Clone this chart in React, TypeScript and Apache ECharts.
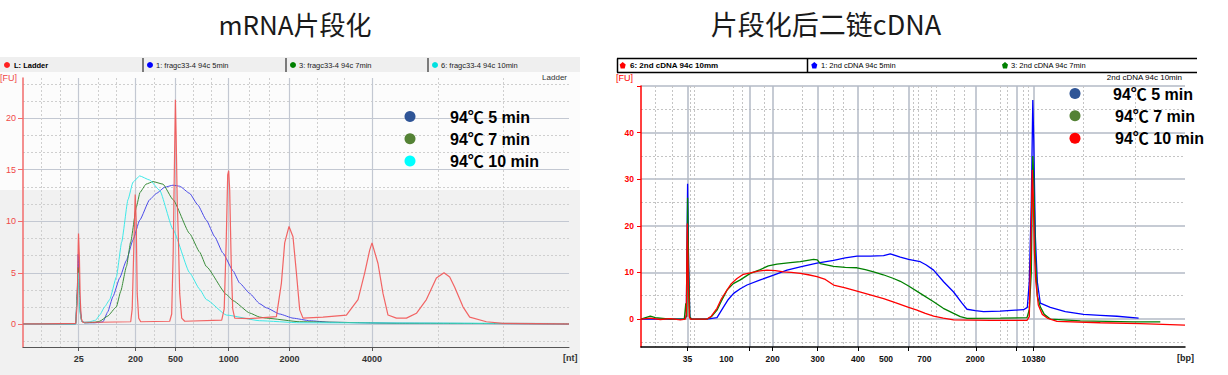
import React, { useEffect, useRef } from 'react';
import * as echarts from 'echarts';

// ---------- Left panel: mRNA fragmentation (x = migration time, scan units) ----------
const leftXTickLabels = ['25', '200', '500', '1000', '2000', '4000'];
const leftXTickTimes = [55.7, 112.4, 152.4, 205.7, 266.4, 349];
const leftXMinorTimes = [18.4, 37.4, 75, 93.4, 131.7, 170, 188.4, 226.7, 246.7, 294, 321.7, 415, 480.7];
const leftYTicks = [0, 5, 10, 15, 20];
const leftYMinor = [-1.667, 1.667, 3.333, 6.667, 8.333, 11.667, 13.333, 16.667, 18.333, 21.667, 23.333];

const leftLadder: [number, number][] = [
  [0, 0.05], [20, 0.05], [52.7, 0.1], [54.2, 2], [55.2, 7.5], [55.5, 8.8], [56.4, 6.5], [57.2, 2.5], [58.2, 0.6],
  [59.7, 0.2], [76.7, 0.2], [107.7, 0.25], [109.2, 1.5], [110.7, 7], [112.2, 12.6], [113.2, 10], [114.2, 3],
  [115.7, 0.6], [117.7, 0.25], [146.7, 0.3], [148.7, 1], [150.2, 7], [151.2, 14], [152.4, 21.8], [153.2, 18],
  [154.2, 12], [155.2, 9], [156.7, 3], [158.7, 0.6], [161.7, 0.3], [198.7, 0.4], [201.2, 1.5], [203.2, 8],
  [204.7, 14.5], [205.7, 14.9], [206.7, 13], [208.2, 6], [209.7, 1.5], [211.7, 0.6], [226.7, 0.55], [253.4, 0.75],
  [258.4, 4.0], [261.7, 7.9], [266, 9.5], [270, 8.5], [273.4, 5.0], [276.7, 1.4], [280, 0.6], [300, 0.7],
  [323.4, 0.9], [335, 2.4], [341.7, 5.0], [346.7, 7.2], [349, 7.9], [355, 5.9], [360, 3.0], [365, 0.9],
  [373.4, 0.6], [383.4, 0.6], [393.4, 1.07], [403.4, 2.4], [413.4, 4.5], [421, 5.0], [426.7, 4.6], [431.7, 3.6],
  [440, 1.7], [446.7, 0.7], [463.4, 0.25], [480, 0.1], [546, 0.05],
];
const left5min: [number, number][] = [
  [0, 0.05], [52.7, 0.05], [54.2, 3], [55.2, 6.8], [56.2, 4], [57.2, 1.5], [58.7, 0.3], [61.7, 0.15], [71.7, 0.15],
  [76.7, 0.2], [80, 0.25], [84.7, 1.2], [90, 2.7], [96.7, 4.5], [103.4, 6.2], [110, 8.2], [116.7, 10.1],
  [126.7, 12.1], [133.4, 12.7], [141.7, 13.3], [150, 13.5], [156.7, 13.4], [166.7, 12.7], [174.7, 11.6],
  [183.4, 10.1], [191.7, 8.5], [200, 6.9], [210, 5.2], [216.7, 4.0], [226.7, 3.0], [236.7, 2.0], [243.4, 1.6],
  [256.7, 1.0], [270, 0.6], [286.7, 0.35], [306.7, 0.2], [376.7, 0.1], [546, 0.05],
];
const left7min: [number, number][] = [
  [0, 0.05], [52.7, 0.05], [54.2, 3], [55.2, 5.5], [56.2, 3.5], [57.2, 1.2], [58.7, 0.3], [61.7, 0.15], [71.7, 0.2],
  [76.7, 0.3], [84.7, 0.8], [93.4, 1.7], [97.7, 3.2], [103.4, 5.6], [107.7, 8.0], [113.4, 11.4], [117, 12.8],
  [123, 13.6], [130, 13.85], [140, 13.6], [150, 12.1], [166.7, 8.8], [176.7, 7.0], [183.4, 5.6], [203.4, 2.9],
  [210, 2.3], [226.7, 1.1], [236.7, 0.7], [243.4, 0.6], [276.7, 0.25], [376.7, 0.1], [546, 0.05],
];
const left10min: [number, number][] = [
  [0, 0.05], [52.7, 0.05], [54.2, 2.5], [55.2, 5.0], [56.2, 3], [57.2, 1.0], [58.7, 0.3], [61.7, 0.2], [66.7, 0.25],
  [72.7, 0.4], [76.7, 0.9], [81.7, 1.7], [86.7, 2.4], [93.4, 4.6], [98.7, 8.0], [105, 12.1], [110, 13.8],
  [116.7, 14.4], [126.7, 14.0], [136.7, 13.0], [150, 9.2], [166.7, 5.0], [176.7, 3.4], [183.4, 2.4], [203.4, 0.9],
  [236.7, 0.35], [276.7, 0.15], [546, 0.08],
];

// ---------- Right panel: 2nd-strand cDNA (x = migration time, scan units) ----------
const rightXTickLabels = ['35', '100', '200', '300', '400', '500', '700', '2000', '10380'];
const rightXLabelTimes = [46.6, 85.3, 131.6, 176.6, 217, 245, 283.3, 334.3, 392.6];
const rightXMajorTimes = [46.6, 108.6, 131.6, 176.6, 217, 267.6, 335, 375.3, 392.6];
const rightXMinorTimes = [14.3, 31, 49.3, 53.6, 92.6, 101, 123.6, 161, 192.6, 202.6, 232.6, 252.6, 272.6, 277.6,
  290, 295.3, 313.6, 323.3, 359.3, 366, 382, 387.6, 442.6, 494.3];
const rightYLabels = [0, 10, 20, 30, 40];
const rightYMajor = [0, 10, 20, 30, 40, 50];
const rightYMinor = [-5, 5, 15, 25, 35, 45];

const right10min: [number, number][] = [
  [0, 0], [9.3, 0.2], [19.3, -0.1], [29.3, 0.1], [39.3, -0.2], [44.3, 0], [45.3, 1], [46.3, 20.5], [47.3, 8],
  [48.3, 0.5], [49.3, 0], [66, 0], [70.3, 0.6], [76, 2.3], [80.3, 4.3], [86, 6.2], [90.3, 7.6], [96, 8.7],
  [102.3, 9.6], [109.3, 9.9], [117.3, 10.3], [126, 10.5], [134.3, 10.4], [142.6, 10.1], [150.3, 10.0], [159.3, 9.8],
  [167.3, 9.5], [176, 9.1], [184.3, 8.5], [192.6, 7.3], [204.3, 6.7], [216, 6.0], [229.3, 5.2], [242.6, 4.4],
  [254.3, 3.5], [267.6, 2.5], [276, 1.9], [284.3, 1.2], [292.6, 0.64], [302.3, 0.2], [312.6, -0.2], [349.3, -0.3],
  [386, -0.3], [388.3, 0.5], [390.3, 20], [391.3, 32], [392.3, 26], [393.3, 15], [394.8, 8], [397.3, 3], [401.3, 1],
  [406.3, 0.2], [416, -0.5], [459.3, -0.8], [499.3, -1.0], [544, -1.3],
];
const right7min: [number, number][] = [
  [0, 0], [9.3, 0.6], [14.3, 0.3], [29.3, 0], [43.3, 0], [44.8, 3.4], [45.8, 0.5], [46.6, 26], [47.6, 11],
  [48.8, 0.5], [50.3, 0], [66, 0], [70.3, 0.5], [76, 1.9], [80.3, 3.8], [86, 6.2], [92.3, 7.6], [99.3, 8.4],
  [109.3, 9.8], [119.3, 10.6], [127.3, 11.4], [136, 11.8], [149.3, 12.1], [159.3, 12.3], [172.6, 12.8],
  [176.3, 12.7], [179.3, 11.9], [192.6, 11.3], [204.3, 11.1], [216, 11.0], [224.3, 10.6], [232.6, 10.1],
  [242.3, 9.5], [252.6, 8.7], [259.3, 8.1], [267.6, 7.1], [279.3, 5.5], [292.6, 3.7], [302.3, 2.3], [312.6, 1.2],
  [319.3, 0.5], [326, 0.15], [359.3, 0.2], [386, 0.3], [388.3, 2], [390.3, 10], [391.8, 35], [392.8, 30],
  [394.3, 14], [396.3, 5], [399.3, 2.6], [403.3, 1], [409.3, 0], [439.3, -0.4], [492.3, -0.6], [519.3, -0.6],
];
const right5min: [number, number][] = [
  [0, 0], [19.3, 0], [43.3, 0], [45.3, 0.5], [46.6, 29], [47.6, 12], [48.8, 0.5], [50.3, 0], [66, 0], [76, 0.3],
  [82.6, 2.6], [87.3, 4.2], [92.6, 5.5], [99.3, 6.5], [106, 7.3], [119.3, 8.4], [132.6, 9.4], [146, 10.5],
  [159.3, 11.2], [176, 12.0], [192.6, 12.6], [204.3, 13.1], [216, 13.5], [229.3, 13.5], [242.6, 13.6],
  [249.3, 14.0], [259.3, 13.3], [267.6, 12.8], [272.6, 12.6], [279.3, 12.3], [285.3, 11.6], [292.6, 10.5],
  [302.6, 8.0], [312.6, 5.8], [321, 3.4], [326, 2.1], [334.3, 1.8], [342.6, 1.6], [359.3, 1.7], [374.3, 1.9],
  [382.6, 2.0], [386.3, 2.5], [388.3, 8], [390.3, 25], [391.8, 47], [392.8, 38], [394.3, 18], [396.3, 8],
  [399.3, 3.4], [409.3, 2.5], [424.3, 1.6], [442.6, 1.0], [459.3, 0.8], [476, 0.6], [497.6, 0.2],
];

const titles = ['mRNA片段化', '片段化后二链cDNA'];
const bigLegendLabels = ['94℃ 5 min', '94℃ 7 min', '94℃ 10 min'];
const leftTraceLegend = ['L: Ladder', '1: fragc33-4 94c 5min', '3: fragc33-4 94c 7min', '6: fragc33-4 94c 10min'];
const rightTraceLegend = ['6: 2nd cDNA 94c 10mm', '1: 2nd cDNA 94c 5min', '3: 2nd cDNA 94c 7min'];

const SMALL = '"Liberation Sans", Arial, sans-serif';
const CJK = '"Noto Sans CJK SC", "Noto Sans", sans-serif';
const BIG = '"Liberation Sans", Arial, "Noto Sans CJK SC", sans-serif';

const pick = (positions: number[], labels: (string | number)[]) => (v: number) => {
  let best = 0;
  for (let i = 1; i < positions.length; i++) {
    if (Math.abs(positions[i] - v) < Math.abs(positions[best] - v)) best = i;
  }
  return String(labels[best]);
};

function minorAxis(gridIndex: number, min: number, max: number, values: number[], color: string) {
  return {
    gridIndex, type: 'value', min, max,
    axisLine: { show: false }, axisLabel: { show: false },
    axisTick: { show: false, customValues: values },
    splitLine: { show: true, lineStyle: { color, width: 1, type: [2, 2] } },
  };
}

function txt(x: number, y: number, text: string, style: any, extra: any = {}) {
  return { type: 'text', x, y, z: 50, silent: true, style: { text, textVerticalAlign: 'middle', verticalAlign: 'middle', ...style }, ...extra };
}

export default function App() {
  const ref = useRef<HTMLDivElement>(null);
  useEffect(() => {
    if (!ref.current) return;
    const chart = echarts.init(ref.current, undefined, { renderer: 'svg' });

    const leftColors = ['#0000ff', '#008000', '#00e0e0'];
    const graphic: any[] = [
      // left panel backgrounds
      { type: 'rect', z: -10, shape: { x: 0, y: 72, width: 580, height: 118 }, style: { fill: '#fcfcfc' } },
      { type: 'rect', z: -10, shape: { x: 0, y: 190, width: 580, height: 185 }, style: { fill: '#f1f1f1' } },
      { type: 'rect', z: -10, shape: { x: 0, y: 57, width: 580, height: 15 }, style: { fill: '#efefef' } },
      ...[143, 286, 428].map((x) => ({ type: 'line', shape: { x1: x, y1: 58, x2: x, y2: 72 }, style: { stroke: '#555', lineWidth: 1.5 } })),
      { type: 'circle', shape: { cx: 7, cy: 65, r: 3 }, style: { fill: '#ff2020' } },
      ...[150, 293, 435].map((x, i) => ({ type: 'circle', shape: { cx: x, cy: 65, r: 3 }, style: { fill: leftColors[i] } })),
      txt(14, 65, leftTraceLegend[0], { fontSize: 7.5, fontWeight: 'bold', fontFamily: SMALL, fill: '#000' }),
      txt(156, 65, leftTraceLegend[1], { fontSize: 7.5, fontFamily: SMALL, fill: '#222' }),
      txt(299, 65, leftTraceLegend[2], { fontSize: 7.5, fontFamily: SMALL, fill: '#222' }),
      txt(441, 65, leftTraceLegend[3], { fontSize: 7.5, fontFamily: SMALL, fill: '#222' }),
      txt(0, 78, '[FU]', { fontSize: 9, fontFamily: SMALL, fill: '#f04848' }),
      txt(567, 77, 'Ladder', { fontSize: 8, fontFamily: SMALL, fill: '#333', align: 'right', textAlign: 'right' }),
      txt(563, 358, '[nt]', { fontSize: 9, fontWeight: 'bold', fontFamily: SMALL, fill: '#333' }),
      // right panel legend bar
      { type: 'line', shape: { x1: 617, y1: 58.5, x2: 1197, y2: 58.5 }, style: { stroke: '#000', lineWidth: 1.5 } },
      { type: 'line', shape: { x1: 617, y1: 72.5, x2: 1197, y2: 72.5 }, style: { stroke: '#000', lineWidth: 1.5 } },
      { type: 'line', shape: { x1: 617.5, y1: 58.5, x2: 617.5, y2: 72.5 }, style: { stroke: '#000', lineWidth: 1.5 } },
      { type: 'line', shape: { x1: 807.5, y1: 58.5, x2: 807.5, y2: 72.5 }, style: { stroke: '#000', lineWidth: 1.5 } },
      ...[[622.7, '#ff0000'], [814.3, '#0000ff'], [1005, '#008000']].map(([x, c]) => ({
        type: 'polygon', shape: { points: [[(x as number), 62], [(x as number) + 3, 64.5], [(x as number) + 2, 68.5], [(x as number) - 2, 68.5], [(x as number) - 3, 64.5]] },
        style: { fill: c as string },
      })),
      txt(630, 65.5, rightTraceLegend[0], { fontSize: 8, fontWeight: 'bold', fontFamily: SMALL, fill: '#000' }),
      txt(821, 65.5, rightTraceLegend[1], { fontSize: 7.5, fontFamily: SMALL, fill: '#000' }),
      txt(1011, 65.5, rightTraceLegend[2], { fontSize: 7.5, fontFamily: SMALL, fill: '#000' }),
      txt(1182, 77.5, '2nd cDNA 94c 10min', { fontSize: 8, fontFamily: SMALL, fill: '#000', align: 'right', textAlign: 'right' }),
      txt(616, 78, '[FU]', { fontSize: 9, fontFamily: SMALL, fill: '#ff0000' }),
      txt(1177, 358, '[bp]', { fontSize: 9, fontWeight: 'bold', fontFamily: SMALL, fill: '#222' }),
      // titles
      txt(295, 23, titles[0], { fontSize: 26, fontFamily: CJK, fill: '#1a1a1a', align: 'center', textAlign: 'center' }),
      txt(826, 23, titles[1], { fontSize: 27, fontFamily: CJK, fill: '#1a1a1a', align: 'center', textAlign: 'center' }),
    ];
    const leftBig = ['#2F5597', '#548235', '#00FFFF'];
    const rightBig = ['#2F5597', '#548235', '#FF0000'];
    [116.5, 138.7, 161].forEach((y, i) => {
      graphic.push({ type: 'circle', z: 50, shape: { cx: 410, cy: y, r: 5.5 }, style: { fill: leftBig[i] } });
      graphic.push(txt(450, y + 0.5, bigLegendLabels[i], { fontSize: 16, fontWeight: 'bold', fontFamily: BIG, fill: '#000' }));
    });
    [93.5, 115.8, 138.3].forEach((y, i) => {
      graphic.push({ type: 'circle', z: 50, shape: { cx: 1075, cy: y, r: 5.5 }, style: { fill: rightBig[i] } });
      graphic.push(txt(i === 0 ? 1113 : 1115, y + 0.5, bigLegendLabels[i], { fontSize: 16, fontWeight: 'bold', fontFamily: BIG, fill: '#000' }));
    });

    const option: any = {
      animation: false,
      backgroundColor: '#ffffff',
      grid: [
        { left: 23, top: 78, width: 546, height: 269, outerBoundsMode: 'none' },
        { left: 641, top: 86, width: 544, height: 261, outerBoundsMode: 'none' },
      ],
      xAxis: [
        {
          gridIndex: 0, type: 'value', min: 0, max: 546,
          axisLine: { show: true, onZero: false, lineStyle: { color: '#555', width: 1 } },
          axisTick: { show: true, customValues: leftXTickTimes, length: 4, lineStyle: { color: '#555' } },
          axisLabel: { customValues: leftXTickTimes, formatter: pick(leftXTickTimes, leftXTickLabels), color: '#333', fontSize: 9, fontWeight: 'bold', fontFamily: SMALL, margin: 7 },
          splitLine: { show: true, lineStyle: { color: '#c3c8d2', width: 1.2 } },
        },
        minorAxis(0, 0, 546, leftXMinorTimes, '#cfcfcf'),
        {
          gridIndex: 1, type: 'value', min: 0, max: 544,
          axisLine: { show: true, onZero: false, lineStyle: { color: '#000', width: 1.5 } },
          axisTick: { show: true, customValues: rightXMajorTimes, length: 4, lineStyle: { color: '#000' } },
          axisLabel: { customValues: rightXLabelTimes, formatter: pick(rightXLabelTimes, rightXTickLabels), color: '#111', fontSize: 8.5, fontWeight: 'bold', fontFamily: SMALL, margin: 7 },
          splitLine: { show: true, lineStyle: { color: '#b3bac6', width: 1.5 } },
        },
        minorAxis(1, 0, 544, rightXMinorTimes, '#c4c4c4'),
      ],
      yAxis: [
        {
          gridIndex: 0, type: 'value', min: -2.2, max: 23.9,
          axisLine: { show: true, onZero: false, lineStyle: { color: '#f26b6b', width: 1.5 } },
          axisTick: { show: true, customValues: leftYTicks, length: 5, lineStyle: { color: '#f26b6b' } },
          axisLabel: { customValues: leftYTicks, color: '#f04848', fontSize: 9, fontFamily: SMALL, margin: 7 },
          splitLine: { show: true, lineStyle: { color: '#c3c8d2', width: 1.2 } },
        },
        minorAxis(0, -2.2, 23.9, leftYMinor, '#cfcfcf'),
        {
          gridIndex: 1, type: 'value', min: -6, max: 50,
          axisLine: { show: true, onZero: false, lineStyle: { color: '#ff0000', width: 1.5 } },
          axisTick: { show: true, customValues: rightYMajor, length: 4, lineStyle: { color: '#ff0000' } },
          axisLabel: { customValues: rightYLabels, color: '#ff0000', fontSize: 8.5, fontWeight: 'bold', fontFamily: SMALL, margin: 7 },
          splitLine: { show: true, lineStyle: { color: '#b3bac6', width: 1.5 } },
        },
        minorAxis(1, -6, 50, rightYMinor, '#c4c4c4'),
      ],
      series: [
        { name: '5min', type: 'line', xAxisIndex: 0, yAxisIndex: 0, data: left5min, symbol: 'none', smooth: 0.15, smoothMonotone: 'x', lineStyle: { color: '#4a4ae8', width: 1 }, z: 3 },
        { name: '7min', type: 'line', xAxisIndex: 0, yAxisIndex: 0, data: left7min, symbol: 'none', smooth: 0.15, smoothMonotone: 'x', lineStyle: { color: '#3a8c3a', width: 1 }, z: 3 },
        { name: '10min', type: 'line', xAxisIndex: 0, yAxisIndex: 0, data: left10min, symbol: 'none', smooth: 0.15, smoothMonotone: 'x', lineStyle: { color: '#3ee8e8', width: 1 }, z: 3 },
        { name: 'Ladder', type: 'line', xAxisIndex: 0, yAxisIndex: 0, data: leftLadder, symbol: 'none', lineStyle: { color: '#f25454', width: 1.2, opacity: 0.9 }, z: 4 },
        { name: 'cDNA 5min', type: 'line', xAxisIndex: 2, yAxisIndex: 2, data: right5min, symbol: 'none', lineStyle: { color: '#0000ff', width: 1.3 }, z: 3 },
        { name: 'cDNA 7min', type: 'line', xAxisIndex: 2, yAxisIndex: 2, data: right7min, symbol: 'none', lineStyle: { color: '#008000', width: 1.3 }, z: 4 },
        { name: 'cDNA 10min', type: 'line', xAxisIndex: 2, yAxisIndex: 2, data: right10min, symbol: 'none', lineStyle: { color: '#ff0000', width: 1.3 }, z: 5 },
      ],
      graphic,
    };
    chart.setOption(option);
    return () => chart.dispose();
  }, []);
  return <div ref={ref} style={{ position: 'absolute', left: 0, top: 0, width: 1228, height: 375 }} />;
}
